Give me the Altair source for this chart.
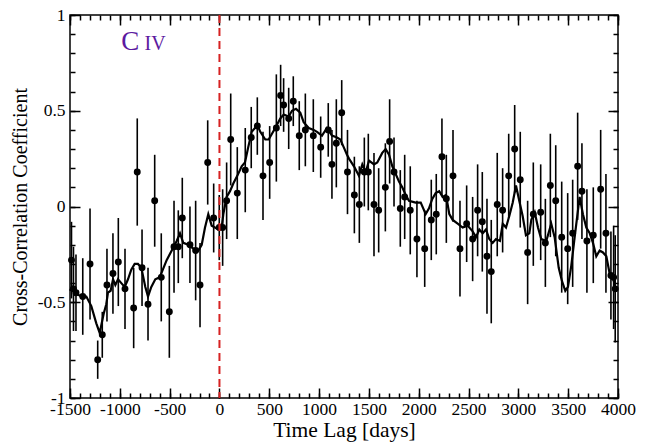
import altair as alt
import pandas as pd

# ---- data ----
point_lag = [-1485, -1465, -1440, -1372, -1299, -1222, -1176, -1129, -1069, -1015,
             -948, -861, -825, -777, -717, -650, -584, -503, -456, -413,
             -373, -296, -239, -195, -118, -58, -2, 32, 72, 113,
             179, 259, 319, 380, 437, 504, 571, 614, 644, 695,
             741, 801, 862, 942, 1016, 1092, 1129, 1173, 1227, 1285,
             1354, 1404, 1454, 1494, 1551, 1598, 1665, 1708, 1752, 1815,
             1859, 1915, 1982, 2060, 2126, 2176, 2233, 2277, 2344, 2414,
             2481, 2541, 2591, 2638, 2685, 2728, 2788, 2842, 2903, 2963,
             3019, 3093, 3150, 3224, 3271, 3321, 3375, 3435, 3495, 3545,
             3595, 3638, 3688, 3752, 3826, 3879, 3929, 3956, 3972]
point_ccf = [-0.28, -0.43, -0.45, -0.47, -0.30, -0.80, -0.67, -0.41, -0.35, -0.29,
             -0.43, -0.53, 0.18, -0.32, -0.51, 0.03, -0.37, -0.55, -0.21, -0.21,
             -0.06, -0.20, -0.23, -0.41, 0.23, -0.06, -0.11, -0.11, 0.03, 0.35,
             0.07, 0.19, 0.36, 0.42, 0.16, 0.23, 0.41, 0.58, 0.53, 0.46,
             0.55, 0.37, 0.40, 0.37, 0.31, 0.40, 0.22, 0.33, 0.49, 0.18,
             0.06, 0.01, 0.18, 0.18, 0.01, -0.02, 0.10, 0.34, 0.18, -0.01,
             0.05, -0.02, -0.17, -0.22, -0.07, -0.04, 0.26, 0.04, 0.16, -0.22,
             -0.09, -0.17, -0.02, -0.08, -0.26, -0.34, 0.01, -0.02, 0.16, 0.30,
             0.14, -0.24, -0.04, -0.03, -0.19, 0.11, 0.03, -0.16, -0.22, -0.14,
             0.21, 0.08, -0.18, -0.15, 0.09, -0.14, -0.36, -0.37, -0.43]
point_err = [0.20, 0.22, 0.20, 0.20, 0.29, 0.10, 0.12, 0.19, 0.21, 0.23,
             0.21, 0.21, 0.28, 0.20, 0.19, 0.24, 0.23, 0.24, 0.24, 0.19,
             0.21, 0.20, 0.26, 0.22, 0.22, 0.18, 0.17, 0.20, 0.20, 0.24,
             0.24, 0.22, 0.16, 0.15, 0.23, 0.19, 0.28, 0.16, 0.14, 0.16,
             0.13, 0.18, 0.19, 0.19, 0.16, 0.14, 0.18, 0.23, 0.17, 0.22,
             0.20, 0.20, 0.18, 0.20, 0.27, 0.22, 0.23, 0.22, 0.18, 0.20,
             0.22, 0.23, 0.20, 0.20, 0.21, 0.21, 0.20, 0.23, 0.24, 0.25,
             0.20, 0.22, 0.24, 0.26, 0.30, 0.27, 0.27, 0.22, 0.22, 0.23,
             0.25, 0.27, 0.27, 0.25, 0.23, 0.27, 0.29, 0.29, 0.29, 0.28,
             0.28, 0.25, 0.27, 0.25, 0.31, 0.31, 0.23, 0.27, 0.28]

line_lag = [-1500, -1480, -1453, -1420, -1387, -1336, -1286, -1236, -1202, -1162,
            -1136, -1119, -1092, -1068, -1045, -1018, -985, -951, -918, -885,
            -851, -818, -784, -744, -717, -684, -644, -600, -530, -479,
            -429, -396, -363, -313, -263, -212, -178, -145, -112, -78,
            -45, -12, 22, 39, 72, 106, 139, 179, 223, 256,
            289, 324, 357, 377, 410, 460, 494, 527, 560, 611,
            645, 695, 728, 768, 811, 845, 896, 946, 979, 1029,
            1079, 1129, 1180, 1213, 1247, 1280, 1300, 1350, 1400, 1434,
            1468, 1501, 1551, 1584, 1634, 1668, 1702, 1735, 1769, 1802,
            1835, 1869, 1902, 1969, 2020, 2070, 2103, 2136, 2170, 2206,
            2240, 2274, 2307, 2341, 2391, 2441, 2491, 2541, 2575, 2608,
            2642, 2675, 2708, 2742, 2775, 2815, 2843, 2876, 2909, 2943,
            2976, 3009, 3043, 3076, 3110, 3130, 3164, 3197, 3230, 3280,
            3330, 3364, 3405, 3438, 3471, 3498, 3531, 3565, 3591, 3615,
            3648, 3682, 3716, 3749, 3782, 3816, 3849, 3883, 3916, 3949,
            3972, 3992]
line_ccf = [-0.44, -0.42, -0.445, -0.46, -0.47, -0.47, -0.52, -0.61, -0.66, -0.56,
            -0.51, -0.45, -0.44, -0.38, -0.41, -0.38, -0.40, -0.42, -0.38, -0.33,
            -0.30, -0.30, -0.32, -0.42, -0.47, -0.42, -0.38, -0.37, -0.28, -0.23,
            -0.18, -0.14, -0.19, -0.20, -0.22, -0.23, -0.20, -0.11, -0.04, -0.10,
            -0.11, -0.12, -0.11, -0.04, 0.05, 0.08, 0.12, 0.16, 0.21, 0.23,
            0.31, 0.39, 0.41, 0.43, 0.39, 0.35, 0.35, 0.38, 0.41, 0.46,
            0.48, 0.47, 0.50, 0.51, 0.49, 0.44, 0.41, 0.40, 0.39, 0.37,
            0.41, 0.37, 0.36, 0.35, 0.31, 0.27, 0.25, 0.21, 0.16, 0.22,
            0.18, 0.24, 0.22, 0.23, 0.28, 0.30, 0.27, 0.21, 0.17, 0.13,
            0.10, 0.06, 0.03, 0.02, 0.02, -0.04, -0.01, 0.04, 0.07, 0.08,
            0.05, 0.06, -0.04, -0.07, -0.09, -0.11, -0.10, -0.13, -0.16, -0.12,
            -0.14, -0.12, -0.17, -0.19, -0.17, -0.18, -0.09, -0.11, -0.05, 0.02,
            0.11, 0.03, -0.05, -0.15, -0.14, -0.07, -0.03, -0.11, -0.17, -0.18,
            -0.09, -0.16, -0.32, -0.39, -0.44, -0.42, -0.31, -0.16, -0.05, 0.05,
            -0.04, -0.11, -0.14, -0.19, -0.26, -0.23, -0.24, -0.26, -0.35, -0.37,
            -0.42, -0.44]

zero_lag = [0]

x_major = [-1500, -1000, -500, 0, 500, 1000, 1500, 2000, 2500, 3000, 3500, 4000]
x_minor = list(range(-1500, 4001, 100))
y_major = [-1, -0.5, 0, 0.5, 1]
y_minor = [-1, -0.9, -0.8, -0.7, -0.6, -0.5, -0.4, -0.3, -0.2, -0.1, 0,
           0.1, 0.2, 0.3, 0.4, 0.5, 0.6, 0.7, 0.8, 0.9, 1]

# ---- tables ----
pts = pd.DataFrame({"lag": point_lag, "ccf": point_ccf, "err": point_err})
pts["lo"] = pts["ccf"] - pts["err"]
pts["hi"] = pts["ccf"] + pts["err"]
line_df = pd.DataFrame({"lag": line_lag, "ccf": line_ccf})
zero_df = pd.DataFrame({"lag": zero_lag})

SERIF = "Liberation Serif"
xs = alt.Scale(domain=[-1500, 4000], nice=False, zero=False)
ys = alt.Scale(domain=[-1, 1], nice=False, zero=False)

errbars = alt.Chart(pts).mark_rule(color="black", strokeWidth=1.6).encode(
    x=alt.X("lag:Q", scale=xs, axis=None),
    y=alt.Y("lo:Q", scale=ys, axis=None),
    y2="hi:Q",
)
curve = alt.Chart(line_df).mark_line(color="black", strokeWidth=2.2).encode(
    x=alt.X("lag:Q", scale=xs, axis=None),
    y=alt.Y("ccf:Q", scale=ys, axis=None),
)
dots = alt.Chart(pts).mark_circle(color="black", size=48, opacity=1).encode(
    x=alt.X("lag:Q", scale=xs, axis=None),
    y=alt.Y("ccf:Q", scale=ys, axis=None),
)
zero_rule = alt.Chart(zero_df).mark_rule(color="#d62222", strokeWidth=2, strokeDash=[8, 5]).encode(
    x=alt.X("lag:Q", scale=xs, axis=None),
)
label_c = alt.Chart(zero_df).mark_text(
    text="C", font=SERIF, fontSize=27, color="#5c1aa0", align="left", baseline="alphabetic"
).encode(x=alt.datum(-985, scale=xs, axis=None), y=alt.datum(0.815, scale=ys, axis=None))
label_iv = alt.Chart(zero_df).mark_text(
    text="IV", font=SERIF, fontSize=20, color="#5c1aa0", align="left", baseline="alphabetic"
).encode(x=alt.datum(-752, scale=xs, axis=None), y=alt.datum(0.815, scale=ys, axis=None))


def axis_layer(xaxis, yaxis):
    return alt.Chart(line_df).mark_line(opacity=0).encode(
        x=alt.X("lag:Q", scale=xs, axis=xaxis),
        y=alt.Y("ccf:Q", scale=ys, axis=yaxis),
    )


def tick_axis(orient, values, size):
    return alt.Axis(orient=orient, values=values, offset=-size, tickSize=size,
                    tickColor="black", tickWidth=1.5, labels=False, domain=False,
                    grid=False, title=None)


label_x = alt.Axis(orient="bottom", values=x_major, ticks=False, domain=False, grid=False,
                   labelFont=SERIF, labelFontSize=17.5, labelColor="black", labelPadding=2,
                   labelExpr="datum.value + ''", labelFlush=False, labelOverlap=False,
                   title="Time Lag [days]", titleFont=SERIF, titleFontSize=21.5,
                   titleFontWeight="normal", titleColor="black", titlePadding=2)
label_y = alt.Axis(orient="left", values=y_major, ticks=False, domain=False, grid=False,
                   labelFont=SERIF, labelFontSize=17.5, labelColor="black", labelPadding=5,
                   labelExpr="datum.value + ''", labelFlush=False, labelOverlap=False,
                   title="Cross-Correlation Coefficient", titleFont=SERIF, titleFontSize=20,
                   titleFontWeight="normal", titleColor="black", titlePadding=7)

chart = alt.layer(
    axis_layer(label_x, label_y),
    axis_layer(tick_axis("bottom", x_major, 10), tick_axis("left", y_major, 10)),
    axis_layer(tick_axis("bottom", x_minor, 5), tick_axis("left", y_minor, 5)),
    axis_layer(tick_axis("top", x_major, 10), tick_axis("right", y_major, 10)),
    axis_layer(tick_axis("top", x_minor, 5), tick_axis("right", y_minor, 5)),
    errbars, curve, dots, zero_rule, label_c, label_iv,
).resolve_axis(x="independent", y="independent").properties(
    width=548, height=383,
    autosize=alt.AutoSizeParams(type="none"),
    padding={"left": 70, "top": 15, "right": 30, "bottom": 46},
    background="white",
).configure_view(stroke="black", strokeWidth=1.5)

chart.save("out.html", embed_options={"renderer": "svg", "actions": False})
